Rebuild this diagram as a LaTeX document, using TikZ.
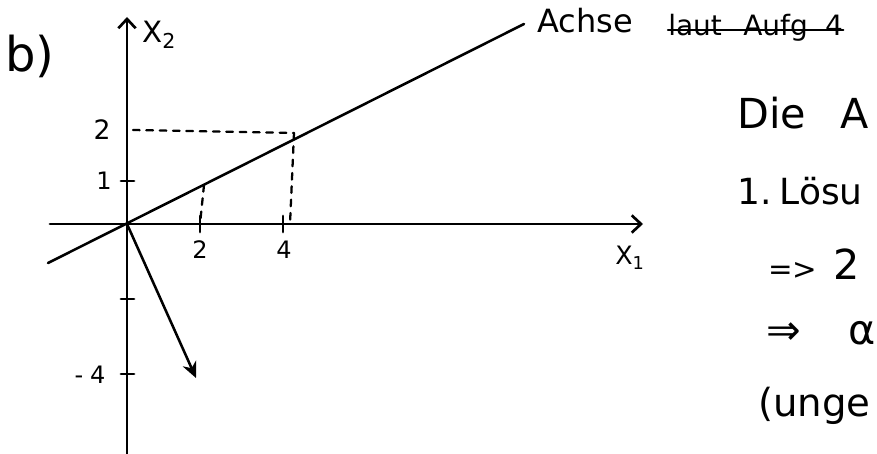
\documentclass[tikz,border=0pt]{standalone}
\usepackage{fontspec}
\setmainfont{DejaVu Sans}
\usetikzlibrary{arrows.meta}
\begin{document}
\begin{tikzpicture}[x=0.75pt,y=-0.75pt,line cap=round,line join=round,
  axisline/.style={line width=2.1pt},
  thinline/.style={line width=1.9pt},
  dashline/.style={line width=1.7pt,dash pattern=on 5pt off 5pt},
  tickmark/.style={line width=2.1pt},
  lbl/.style={inner sep=0pt,font=\fontsize{18}{20}\selectfont},
  txt/.style={inner sep=0pt,anchor=base west,font=\fontsize{24}{28}\selectfont},
  bigtxt/.style={inner sep=0pt,anchor=base west,font=\fontsize{31}{35}\selectfont},
  barb/.style={-{Straight Barb[length=7pt,width=13pt,line width=2pt]}},
  vec/.style={-{Stealth[length=12pt,width=11pt]}}
]
\useasboundingbox (0,0) rectangle (877,453);
\clip (0,0) rectangle (877,453);

% coordinates
\coordinate (O) at (127,224);
\coordinate (ytop) at (127,17);
\coordinate (ybot) at (127,456);
\coordinate (xleft) at (50,224);
\coordinate (xright) at (643,224);
\coordinate (lineL) at (48,263);
\coordinate (lineR) at (524,24);
\coordinate (P4) at (294,133);
\coordinate (P2) at (204,185);
\coordinate (Y2) at (133,130);
\coordinate (X4) at (290,224);
\coordinate (X2) at (200,224);
\coordinate (V) at (196,378);

% axes
\draw[axisline,barb] (ybot) -- (ytop);
\draw[axisline,barb] (xleft) -- (xright);

% ticks
\draw[tickmark] (121,181) -- (134,181);
\draw[tickmark] (121,299) -- (134,299);
\draw[tickmark] (121,374) -- (134,374);
\draw[tickmark] (X2) ++(0,-8) -- ++(0,16);
\draw[tickmark] (283,216) -- (283,232);

% line (Achse)
\draw[thinline] (lineL) -- (lineR);

% dashed helpers
\draw[dashline] (Y2) -- (P4);
\draw[dashline] (P4) -- (X4);
\draw[dashline] (P2) -- (X2);

% vector
\draw[thinline,vec] (O) -- (V);

% labels
\node[inner sep=0pt,font=\fontsize{36}{40}\selectfont] (b) at (30,56) {b)};
\node[lbl,font=\fontsize{22}{24}\selectfont,anchor=west] (x2lab) at (142,35) {X\textsubscript{2}};
\node[lbl,font=\fontsize{19}{21}\selectfont] (x1lab) at (630,258) {X\textsubscript{1}};
\node[lbl,font=\fontsize{20}{22}\selectfont] (l2y) at (102,130) {2};
\node[lbl] (l1y) at (104,181) {1};
\node[lbl] (lm4) at (90,375) {-\hspace{5pt}4};
\node[lbl] (l2x) at (200,250) {2};
\node[lbl] (l4x) at (284,250) {4};

% Achse text
\node[txt] (achse) at (537,33) {Achse};
\node[inner sep=0pt,anchor=base west,font=\fontsize{21}{23}\selectfont] (laut) at (668,36) {laut\hspace{16pt}Aufg\hspace{13pt}4};
\draw[line width=1.8pt] (laut.west) ++(0,2) -- ([yshift=-1.5pt]laut.east);

% right text
\node[bigtxt] (die) at (737,128) {Die\hspace{26pt}A};
\node[txt,font=\fontsize{27}{30}\selectfont] (loes) at (737,204) {1.\hspace{6pt}Lösu};
\node[bigtxt] (imp1) at (768,279) {{\fontsize{22}{24}\selectfont =>}\hspace{12pt}2};
\node[bigtxt] (imp2) at (766,344) {⇒\hspace{36pt}α};
\node[bigtxt,font=\fontsize{29}{33}\selectfont] (unge) at (758,416) {(unge};
\end{tikzpicture}
\end{document}
